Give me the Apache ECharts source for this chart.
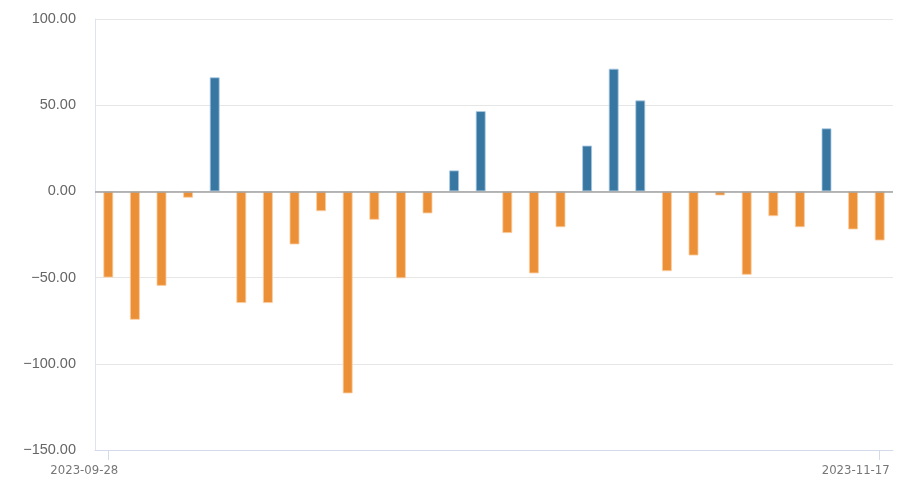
<!DOCTYPE html>
<html>
<head>
<meta charset="utf-8">
<script src="https://cdn.jsdelivr.net/npm/echarts@6/dist/echarts.min.js"></script>
<style>html,body{margin:0;padding:0;background:#fff;}#c{width:910px;height:483px;}</style>
</head>
<body>
<div id="c"></div>
<script>
const categories = ['2023-09-28','2023-10-09','2023-10-10','2023-10-11','2023-10-12','2023-10-13','2023-10-16','2023-10-17','2023-10-18','2023-10-19','2023-10-20','2023-10-23','2023-10-24','2023-10-25','2023-10-26','2023-10-27','2023-10-30','2023-10-31','2023-11-01','2023-11-02','2023-11-03','2023-11-06','2023-11-07','2023-11-08','2023-11-09','2023-11-10','2023-11-13','2023-11-14','2023-11-16','2023-11-17'];
const values = [-50, -74.5, -54.8, -3.7, 66.2, -64.8, -64.8, -30.8, -11.5, -117.2, -16.5, -50.4, -12.8, 12.2, 46.6, -24.2, -47.6, -20.8, 26.6, 71.2, 52.8, -46.3, -37.2, -2.4, -48.4, -14.4, -20.8, 36.6, -22.1, -28.5];
const yTicks = { min: -150, max: 100, interval: 50 };

const edgeOnly = function (i) { return i === 0 || i === categories.length - 1; };
const chart = echarts.init(document.getElementById('c'));
chart.setOption({
  animation: false,
  grid: { left: 95, right: 17, top: 19, bottom: 33, containLabel: false },
  xAxis: {
    type: 'category',
    data: categories,
    boundaryGap: true,
    axisLine: { show: true, onZero: false, lineStyle: { color: '#d3dbea', width: 1 } },
    axisTick: { show: true, alignWithLabel: true, length: 10, lineStyle: { color: '#d3dbea' }, interval: edgeOnly },
    axisLabel: {
      show: true, color: '#777', fontSize: 13, margin: 14,
      fontFamily: 'DejaVu Sans Condensed, sans-serif',
      interval: edgeOnly,
      padding: [0, 48, 0, 0]
    },
    splitLine: { show: false }
  },
  yAxis: {
    type: 'value',
    min: yTicks.min, max: yTicks.max, interval: yTicks.interval,
    axisLine: { show: true, lineStyle: { color: '#dde3f0' } },
    axisTick: { show: false },
    axisLabel: {
      color: '#666', fontSize: 14.5, margin: 19,
      formatter: function (v) { return v.toFixed(2).replace('-', '\u2212'); }
    },
    splitLine: { lineStyle: { color: '#e6e6e6' } }
  },
  series: [{
    type: 'bar',
    data: values.map(function (v) {
      return {
        value: v,
        itemStyle: {
          color: v >= 0 ? '#3777a2' : '#ec9037',
          borderColor: v >= 0 ? 'rgba(170,200,225,0.8)' : 'rgba(250,205,160,0.8)',
          borderWidth: 1
        }
      };
    }),
    barWidth: 10,
    markLine: {
      silent: true, symbol: 'none', label: { show: false },
      lineStyle: { color: '#a0a0a0', type: 'solid', width: 1.5 },
      data: [{ yAxis: 0 }]
    }
  }]
});
</script>
</body>
</html>
